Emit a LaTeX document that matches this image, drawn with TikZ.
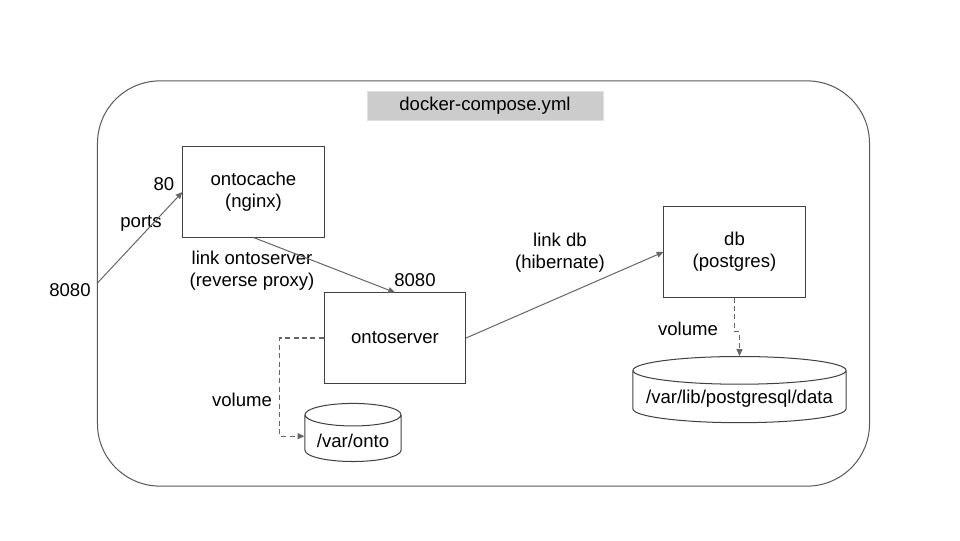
\documentclass[tikz,border=0pt]{standalone}
\usepackage{fontspec}
\setmainfont{Liberation Sans}
\usetikzlibrary{arrows.meta,shapes.geometric,positioning}

\begin{document}
\begin{tikzpicture}[x=0.020833cm, y=-0.020833cm,
  every node/.style={font=\fontsize{11}{13}\selectfont, align=center},
  service/.style={draw=black!75, line width=0.6pt, minimum width=2.94cm, minimum height=1.875cm},
  store/.style={draw=black!75, line width=0.6pt, cylinder, shape border rotate=90},
  link/.style={draw=black!60, line width=0.6pt, -{Triangle[length=4pt,width=3.5pt]}},
  vol/.style={link, dash pattern=on 3pt off 2pt}]
  \useasboundingbox (0,0) rectangle (960,540);
  % Define nodes
  \node[draw=black!65, line width=0.6pt, rounded corners=1.3cm, minimum width=16.08cm, minimum height=8.44cm] (compose) at (483.5,283.5) {};
  \node[fill=black!20, draw=black!12, minimum width=4.92cm, minimum height=0.6cm] (title) at (485,106) {docker-compose.yml};
  \node[service] (ontocache) at (253.5,192) {ontocache\\(nginx)};
  \node[service] (ontoserver) at (395,338) {ontoserver};
  \node[service] (db) at (734.5,252) {db\\(postgres)};
  \node[store, aspect=0.27, minimum width=2cm, minimum height=1.21cm] (onto) at (353,441) {/var/onto};
  \node[store, aspect=0.14, minimum width=4.44cm, minimum height=1.25cm] (pgdata) at (739.5,399) {/var/lib/postgresql/data};
  % Labels
  \node (hostport) at (70,290) {8080};
  \node (ports) at (141,223) {ports};
  \node (cacheport) at (164,184) {80};
  \node (proxy) at (252,271) {link ontoserver\\(reverse proxy)};
  \node (serverport) at (415,280) {8080};
  \node (hibernate) at (560,253) {link db\\(hibernate)};
  \node (ontovol) at (242,400) {volume};
  \node (pgvol) at (688,329) {volume};
  % Connect nodes
  \draw[link] (compose.west) -- (ontocache.west);
  \draw[link] (ontocache.south) -- (ontoserver.north);
  \draw[link] (ontoserver.east) -- (db.west);
  \draw[vol] (ontoserver.west) -- ++(-44,0) |- ([yshift=0.1cm]onto.west);
  \draw[vol] (db.south) -- ++(0,34) -| (pgdata.north);
\end{tikzpicture}
\end{document}
